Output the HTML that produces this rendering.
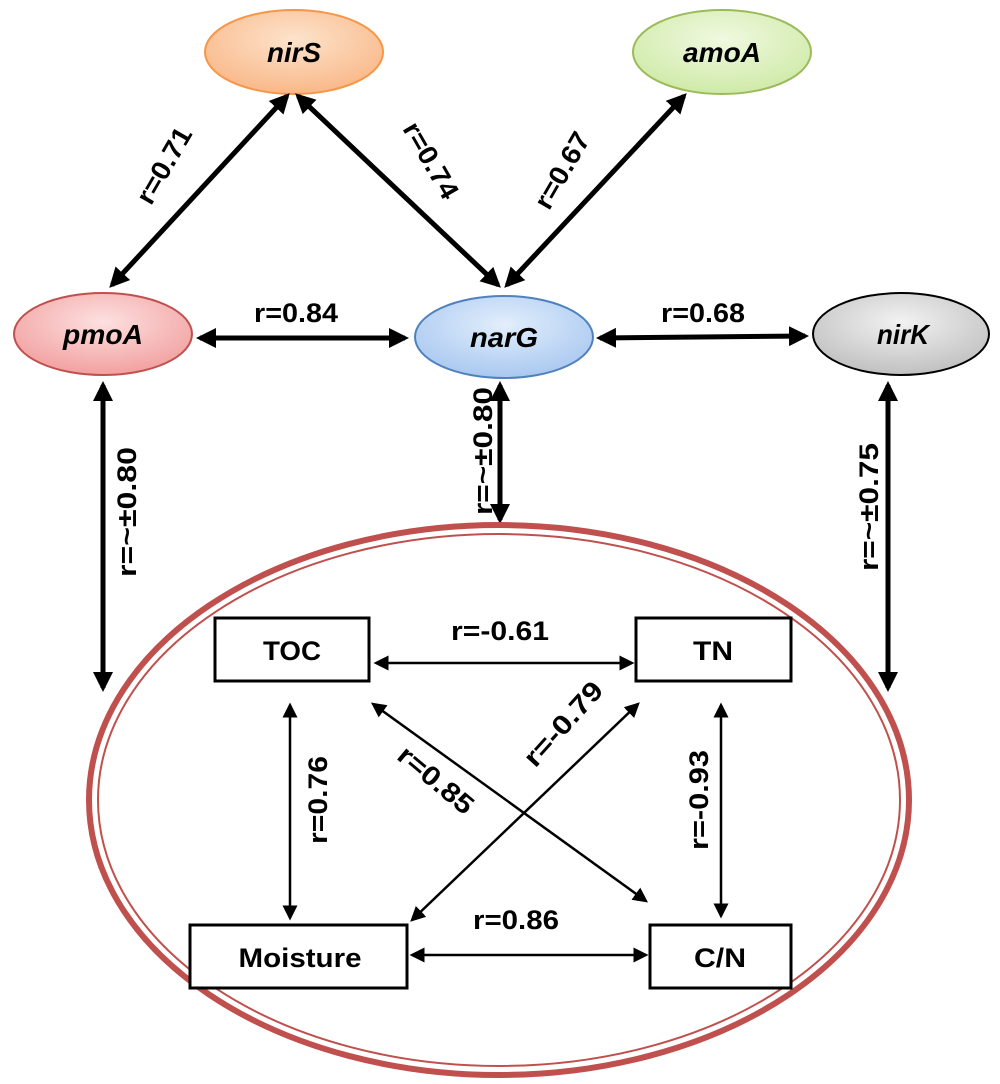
<!DOCTYPE html>
<html><head><meta charset="utf-8"><style>html,body{margin:0;padding:0;background:#fff}svg{display:block}</style></head>
<body>
<svg width="1000" height="1084" viewBox="0 0 1000 1084" xmlns="http://www.w3.org/2000/svg">
<defs>
<marker id="a" markerWidth="4" markerHeight="4" refX="3.2" refY="2" orient="auto-start-reverse" markerUnits="strokeWidth"><path d="M0,0 L4,2 L0,4 z" fill="#000"/></marker>
<marker id="b" markerWidth="6" markerHeight="6" refX="5" refY="3" orient="auto-start-reverse" markerUnits="strokeWidth"><path d="M0,0 L6,3 L0,6 z" fill="#000"/></marker>
<radialGradient id="gS" cx="50%" cy="35%" r="65%"><stop offset="0" stop-color="#fde3cc"/><stop offset="1" stop-color="#f9b888"/></radialGradient>
<radialGradient id="gA" cx="50%" cy="35%" r="65%"><stop offset="0" stop-color="#f0f9e0"/><stop offset="1" stop-color="#cfeaa8"/></radialGradient>
<radialGradient id="gP" cx="50%" cy="35%" r="65%"><stop offset="0" stop-color="#fde0e0"/><stop offset="1" stop-color="#f2a0a0"/></radialGradient>
<radialGradient id="gN" cx="50%" cy="35%" r="65%"><stop offset="0" stop-color="#e2eefc"/><stop offset="1" stop-color="#a9c8f0"/></radialGradient>
<radialGradient id="gK" cx="50%" cy="35%" r="65%"><stop offset="0" stop-color="#f2f2f2"/><stop offset="1" stop-color="#c0c0c0"/></radialGradient>
</defs>
<g font-family="Liberation Sans, sans-serif" font-weight="bold" font-style="italic" font-size="28" text-anchor="middle">
<ellipse cx="294" cy="52" rx="89" ry="42" fill="url(#gS)" stroke="#f79646" stroke-width="2"/>
<text x="294" y="62" textLength="54" lengthAdjust="spacingAndGlyphs">nirS</text>
<ellipse cx="722" cy="52" rx="89" ry="42" fill="url(#gA)" stroke="#9bbb59" stroke-width="2"/>
<text x="722" y="62" textLength="78" lengthAdjust="spacingAndGlyphs">amoA</text>
<ellipse cx="103" cy="334" rx="89" ry="41" fill="url(#gP)" stroke="#c0504d" stroke-width="2"/>
<text x="103" y="344" textLength="80" lengthAdjust="spacingAndGlyphs">pmoA</text>
<ellipse cx="504" cy="337" rx="89" ry="41" fill="url(#gN)" stroke="#4f81bd" stroke-width="2"/>
<text x="504" y="347" textLength="68" lengthAdjust="spacingAndGlyphs">narG</text>
<ellipse cx="901" cy="334" rx="88" ry="41" fill="url(#gK)" stroke="#000" stroke-width="2"/>
<text x="903" y="344" textLength="52" lengthAdjust="spacingAndGlyphs">nirK</text>
</g>
<g stroke="#000" stroke-width="5" fill="none">
<line x1="112" y1="285" x2="287" y2="96" marker-start="url(#a)" marker-end="url(#a)"/>
<line x1="298" y1="96" x2="498" y2="285" marker-start="url(#a)" marker-end="url(#a)"/>
<line x1="684" y1="96" x2="507" y2="285" marker-start="url(#a)" marker-end="url(#a)"/>
<line x1="200" y1="338" x2="405" y2="338" marker-start="url(#a)" marker-end="url(#a)"/>
<line x1="600" y1="338" x2="805" y2="336" marker-start="url(#a)" marker-end="url(#a)"/>
<line x1="103" y1="385" x2="103" y2="688" marker-start="url(#a)" marker-end="url(#a)"/>
<line x1="500" y1="385" x2="500" y2="520" marker-start="url(#a)" marker-end="url(#a)"/>
<line x1="888" y1="385" x2="888" y2="688" marker-start="url(#a)" marker-end="url(#a)"/>
</g>
<ellipse cx="499" cy="800" rx="410" ry="275" fill="none" stroke="#c0504d" stroke-width="6"/>
<ellipse cx="499" cy="800" rx="401" ry="266" fill="none" stroke="#c0504d" stroke-width="2"/>
<g stroke="#000" stroke-width="3" fill="#fff">
<rect x="215" y="618" width="154" height="63"/>
<rect x="636" y="618" width="155" height="63"/>
<rect x="190" y="925" width="217" height="63"/>
<rect x="650" y="925" width="141" height="63"/>
</g>
<g stroke="#000" stroke-width="2.5" fill="none">
<line x1="376" y1="663" x2="632" y2="663" marker-start="url(#b)" marker-end="url(#b)"/>
<line x1="412" y1="955" x2="646" y2="955" marker-start="url(#b)" marker-end="url(#b)"/>
<line x1="290" y1="705" x2="290" y2="918" marker-start="url(#b)" marker-end="url(#b)"/>
<line x1="721" y1="705" x2="721" y2="916" marker-start="url(#b)" marker-end="url(#b)"/>
<line x1="373" y1="704" x2="646" y2="901" marker-start="url(#b)" marker-end="url(#b)"/>
<line x1="638" y1="704" x2="412" y2="920" marker-start="url(#b)" marker-end="url(#b)"/>
</g>
<g font-family="Liberation Sans, sans-serif" font-weight="bold" font-size="27" text-anchor="middle" fill="#000" lengthAdjust="spacingAndGlyphs">
<text x="292" y="660" textLength="58" lengthAdjust="spacingAndGlyphs">TOC</text>
<text x="713" y="660" textLength="40" lengthAdjust="spacingAndGlyphs">TN</text>
<text x="300" y="967" textLength="123" lengthAdjust="spacingAndGlyphs">Moisture</text>
<text x="720" y="967" textLength="52" lengthAdjust="spacingAndGlyphs">C/N</text>
<text x="500" y="640" textLength="98" lengthAdjust="spacingAndGlyphs">r=-0.61</text>
<text x="516" y="929" textLength="86" lengthAdjust="spacingAndGlyphs">r=0.86</text>
<text transform="translate(327,800) rotate(-90)" textLength="88" lengthAdjust="spacingAndGlyphs">r=0.76</text>
<text transform="translate(708,800) rotate(-90)" textLength="100" lengthAdjust="spacingAndGlyphs">r=-0.93</text>
<text transform="translate(430,787) rotate(40)" textLength="90" lengthAdjust="spacingAndGlyphs">r=0.85</text>
<text transform="translate(570,730) rotate(-48)" textLength="104" lengthAdjust="spacingAndGlyphs">r=-0.79</text>
<text x="296" y="322" textLength="84" lengthAdjust="spacingAndGlyphs">r=0.84</text>
<text x="703" y="322" textLength="84" lengthAdjust="spacingAndGlyphs">r=0.68</text>
<text transform="translate(172,170) rotate(-60)" textLength="84" lengthAdjust="spacingAndGlyphs">r=0.71</text>
<text transform="translate(423,165) rotate(60)" textLength="84" lengthAdjust="spacingAndGlyphs">r=0.74</text>
<text transform="translate(570,175) rotate(-60)" textLength="84" lengthAdjust="spacingAndGlyphs">r=0.67</text>
<text transform="translate(136,512) rotate(-90)" textLength="130" lengthAdjust="spacingAndGlyphs">r=~±0.80</text>
<text transform="translate(492,451) rotate(-90)" textLength="128" lengthAdjust="spacingAndGlyphs">r=~±0.80</text>
<text transform="translate(878,507) rotate(-90)" textLength="128" lengthAdjust="spacingAndGlyphs">r=~±0.75</text>
</g>
</svg>
</body></html>
